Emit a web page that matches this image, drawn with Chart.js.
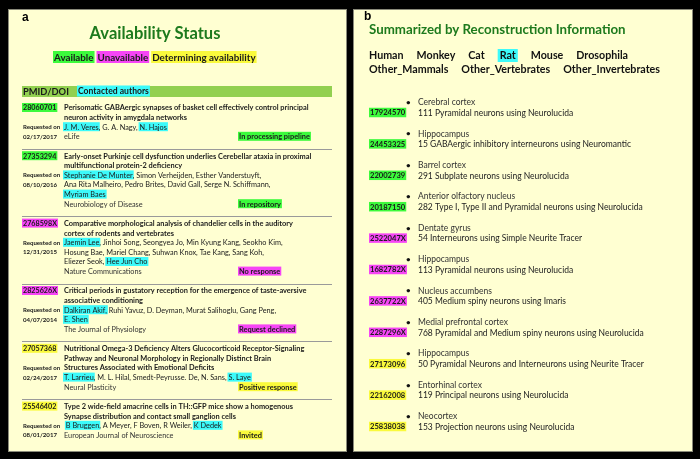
<!DOCTYPE html>
<html>
<head>
<meta charset="utf-8">
<script src="https://cdn.jsdelivr.net/npm/chart.js@4"></script>
<style>
  html, body { margin: 0; padding: 0; background: #000; }
  #fig { display: block; }
</style>
</head>
<body>
<canvas id="fig" width="700" height="459"></canvas>
<script>
// ---- panel a data ----
const legendLabels = ['Available', 'Unavailable', 'Determining availability'];
const legendStatus = ['available', 'unavailable', 'determining'];

const paperIds = ['28060701', '27353294', '2768598X', '2825626X', '27057368', '25546402'];
const paperStatus = ['available', 'available', 'unavailable', 'unavailable', 'determining', 'determining'];
const paperTitles = [
  ['Perisomatic GABAergic synapses of basket cell effectively control principal', 'neuron activity in amygdala networks'],
  ['Early-onset Purkinje cell dysfunction underlies Cerebellar ataxia in proximal', 'multifunctional protein-2 deficiency'],
  ['Comparative morphological analysis of chandelier cells in the auditory', 'cortex of rodents and vertebrates'],
  ['Critical periods in gustatory reception for the emergence of taste-aversive', 'associative conditioning'],
  ['Nutritional Omega-3 Deficiency Alters Glucocorticoid Receptor-Signaling', 'Pathway and Neuronal Morphology in Regionally Distinct Brain', 'Structures Associated with Emotional Deficits'],
  ['Type 2 wide-field amacrine cells in TH::GFP mice show a homogenous', 'Synapse distribution and contact small ganglion cells']
];
// each author line is a list of [text, contacted]
const paperAuthors = [
  [[['J. M. Veres', 1], [', G. A. Nagy, ', 0], ['N. Hajos', 1]]],
  [[['Stephanie De Munter', 1], [', Simon Verheijden, Esther Vanderstuyft,', 0]],
   [['Ana Rita Malheiro, Pedro Brites, David Gall, Serge N. Schiffmann,', 0]],
   [['Myriam Baes', 1]]],
  [[['Jaemin Lee', 1], [', Jinhoi Song, Seongyea Jo, Min Kyung Kang, Seokho Kim,', 0]],
   [['Hosung Bae, Mariel Chang, Suhwan Knox, Tae Kang, Sang Koh,', 0]],
   [['Eliezer Seok, ', 0], ['Hee Jun Cho', 1]]],
  [[['Dalkiran Akif,', 1], [' Ruhi Yavuz, D. Deyman, Murat Salihoglu, Gang Peng,', 0]],
   [['E. Shen', 1]]],
  [[['T. Larrieu', 1], [', M. L. Hilal, Smedt-Peyrusse. De, N. Sans, ', 0], ['S. Laye', 1]]],
  [[[' ', 0], ['B Bruggen', 1], [', A Meyer, F Boven, R Weiler, ', 0], ['K Dedek', 1]]]
];
const paperDates = ['02/17/2017', '08/10/2016', '12/31/2015', '04/07/2014', '02/24/2017', '08/01/2017'];
const paperJournals = ['eLife', 'Neurobiology of Disease', 'Nature Communications', 'The Journal of Physiology', 'Neural Plasticity', 'European Journal of Neuroscience'];
const paperResponses = ['In processing pipeline', 'In repository', 'No response', 'Request declined', 'Positive response', 'Invited'];

// ---- panel b data ----
const speciesRows = [
  ['Human', 'Monkey', 'Cat', 'Rat', 'Mouse', 'Drosophila'],
  ['Other_Mammals', 'Other_Vertebrates', 'Other_Invertebrates']
];
const selectedSpecies = 'Rat';
const reconIds = ['17924570', '24453325', '22002739', '20187150', '2522047X', '1682782X', '2637722X', '2287296X', '27173096', '22162008', '25838038'];
const reconStatus = ['available', 'available', 'available', 'available', 'unavailable', 'unavailable', 'unavailable', 'unavailable', 'determining', 'determining', 'determining'];
const reconRegions = ['Cerebral cortex', 'Hippocampus', 'Barrel cortex', 'Anterior olfactory nucleus', 'Dentate gyrus', 'Hippocampus', 'Nucleus accumbens', 'Medial prefrontal cortex', 'Hippocampus', 'Entorhinal cortex', 'Neocortex'];
const reconDescriptions = [
  '111 Pyramidal neurons using Neurolucida',
  '15 GABAergic inhibitory interneurons using Neuromantic',
  '291 Subplate neurons using Neurolucida',
  '282 Type I, Type II and Pyramidal neurons using Neurolucida',
  '54 Interneurons using Simple Neurite Tracer',
  '113 Pyramidal neurons using Neurolucida',
  '405 Medium spiny neurons using Imaris',
  '768 Pyramidal and Medium spiny neurons using Neurolucida',
  '50 Pyramidal Neurons and Interneurons using Neurite Tracer',
  '119 Principal neurons using Neurolucida',
  '153 Projection neurons using Neurolucida'
];

const statusColor = { available: '#3cfa3c', unavailable: '#f645f6', determining: '#fafa3c' };
const cyan = '#3cfafa';
const panelBg = '#ffffd2';
const titleGreen = '#1d7a1d';
const FONT = 'Lato, "Open Sans", sans-serif';

function font(size, bold) {
  return (bold ? 'bold ' : '') + size + 'px ' + FONT;
}

// text with optional highlight box behind it; returns text width
function mark(ctx, text, x, y, size, bold, bg, color, boxH) {
  ctx.font = font(size, bold);
  const w = ctx.measureText(text).width;
  if (bg) {
    const h = boxH || size * 1.22;
    ctx.fillStyle = bg;
    ctx.fillRect(x - 1, y - h / 2 - 0.5, w + 2, h);
  }
  ctx.fillStyle = color || '#1a1a1a';
  ctx.fillText(text, x, y);
  return w;
}

const figurePlugin = {
  id: 'figure',
  beforeDraw(chart) {
    const ctx = chart.ctx;
    ctx.save();
    ctx.fillStyle = '#000';
    ctx.fillRect(0, 0, chart.width, chart.height);
    ctx.restore();
  },
  afterDraw(chart) {
    const ctx = chart.ctx;
    const sx = v => chart.scales.x.getPixelForValue(v);
    const sy = v => chart.scales.y.getPixelForValue(v);
    ctx.save();
    ctx.textBaseline = 'middle';
    ctx.textAlign = 'left';

    // panels
    ctx.fillStyle = panelBg;
    ctx.strokeStyle = '#8a8a7a';
    ctx.lineWidth = 1;
    ctx.fillRect(sx(8), sy(9), sx(346) - sx(8), sy(451) - sy(9));
    ctx.strokeRect(sx(8) + 0.5, sy(9) + 0.5, sx(346) - sx(8), sy(451) - sy(9));
    ctx.fillRect(sx(353), sy(9), sx(692) - sx(353), sy(451) - sy(9));
    ctx.strokeRect(sx(353) + 0.5, sy(9) + 0.5, sx(692) - sx(353), sy(451) - sy(9));

    // ---------- panel a ----------
    ctx.fillStyle = '#000';
    ctx.font = 'bold 12px "Liberation Sans", Arial, sans-serif';
    ctx.fillText('a', sx(22), sy(18));

    ctx.textAlign = 'center';
    ctx.fillStyle = titleGreen;
    ctx.font = font(16.5, true);
    ctx.fillText('Availability Status', sx(155), sy(34));
    ctx.textAlign = 'left';

    let lx = sx(54);
    legendLabels.forEach((lab, i) => {
      const w = mark(ctx, lab, lx, sy(57.5), 9.8, true, statusColor[legendStatus[i]], null, 12);
      lx += w + 4;
    });

    ctx.fillStyle = '#92d050';
    ctx.fillRect(sx(22), sy(86), sx(332) - sx(22), 11);
    mark(ctx, 'PMID/DOI', sx(23), sy(91.5), 9.3, true, null);
    mark(ctx, 'Contacted authors', sx(78), sy(91.5), 8.6, true, cyan, null, 11);

    const rowH = 9.6;
    let y0 = 108;
    paperIds.forEach((id, i) => {
      mark(ctx, id, sx(23), sy(y0), 7.2, true, statusColor[paperStatus[i]], null, 9);
      const titles = paperTitles[i];
      titles.forEach((t, k) => mark(ctx, t, sx(64), sy(y0 + k * rowH), 7.4, true, null));
      mark(ctx, 'Requested on', sx(23), sy(y0 + 2 * rowH), 6.1, true, null);
      mark(ctx, paperDates[i], sx(23), sy(y0 + 3 * rowH), 6.1, true, null);
      const authors = paperAuthors[i];
      authors.forEach((line, k) => {
        let ax = sx(64);
        const ay = sy(y0 + (titles.length + k) * rowH);
        line.forEach(seg => {
          ax += mark(ctx, seg[0], ax, ay, 7.3, false, seg[1] ? cyan : null, null, 9);
        });
      });
      const jRow = titles.length + authors.length;
      const jy = y0 + jRow * rowH;
      mark(ctx, paperJournals[i], sx(64), sy(jy), 7.3, false, null, '#333');
      mark(ctx, paperResponses[i], sx(239), sy(jy), 7.4, true, statusColor[paperStatus[i]], null, 9);
      if (i < paperIds.length - 1) {
        ctx.strokeStyle = '#9a9a9a';
        ctx.lineWidth = 1;
        ctx.beginPath();
        ctx.moveTo(sx(22), Math.round(sy(jy + 12)) + 0.5);
        ctx.lineTo(sx(332), Math.round(sy(jy + 12)) + 0.5);
        ctx.stroke();
      }
      y0 = jy + 19.4;
    });

    // ---------- panel b ----------
    ctx.fillStyle = '#000';
    ctx.font = 'bold 12px "Liberation Sans", Arial, sans-serif';
    ctx.fillText('b', sx(364), sy(17));

    ctx.fillStyle = titleGreen;
    ctx.font = font(13.3, true);
    ctx.fillText('Summarized by Reconstruction Information', sx(369), sy(30));

    speciesRows.forEach((row, r) => {
      let x = sx(369);
      const y = sy(56 + r * 14);
      row.forEach(name => {
        const sel = name === selectedSpecies;
        if (sel) x += 2;
        ctx.font = font(10.7, true);
        const w = ctx.measureText(name).width;
        if (sel) {
          ctx.fillStyle = cyan;
          ctx.fillRect(x - 2, y - 7, w + 4, 13);
        }
        ctx.fillStyle = '#111';
        ctx.fillText(name, x, y);
        x += w + 13 + (sel ? 2 : 0);
      });
    });

    reconIds.forEach((id, i) => {
      const dy = 113 + i * 31.4;
      ctx.fillStyle = '#111';
      ctx.font = font(8, true);
      ctx.fillText('\u2022', sx(406), sy(dy - 10.5));
      mark(ctx, reconRegions[i], sx(418), sy(dy - 10.5), 8.5, false, null, '#333');
      mark(ctx, id, sx(370), sy(dy), 7.6, true, statusColor[reconStatus[i]], null, 9.5);
      mark(ctx, reconDescriptions[i], sx(418), sy(dy), 8.5, false, null, '#222');
    });

    ctx.restore();
  }
};

new Chart(document.getElementById('fig').getContext('2d'), {
  type: 'scatter',
  data: { datasets: [] },
  options: {
    responsive: false,
    animation: false,
    events: [],
    layout: { padding: 0 },
    plugins: { legend: { display: false }, tooltip: { enabled: false } },
    scales: {
      x: { type: 'linear', min: 0, max: 700, display: false },
      y: { type: 'linear', min: 0, max: 459, reverse: true, display: false }
    }
  },
  plugins: [figurePlugin]
});
</script>
</body>
</html>
